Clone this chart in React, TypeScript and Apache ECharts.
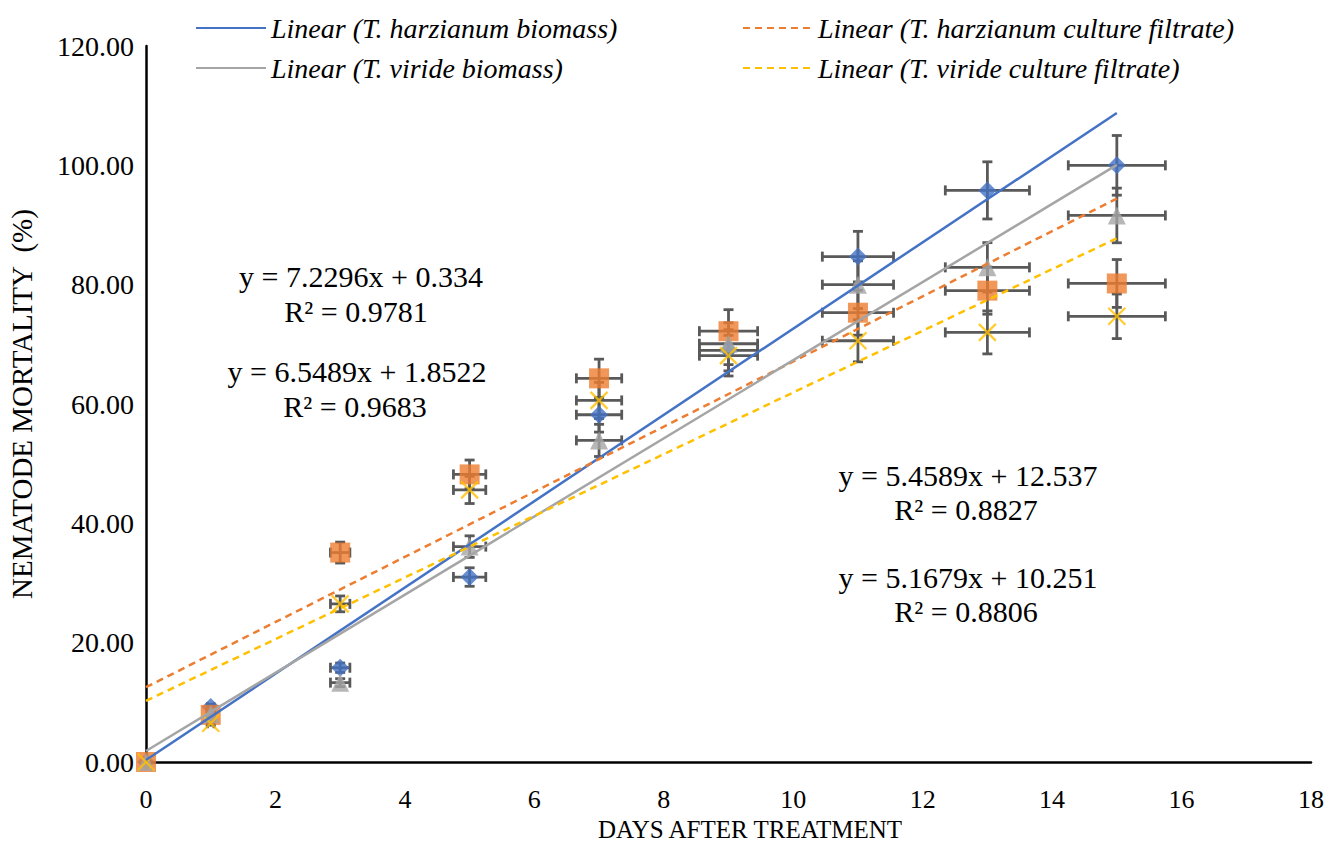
import React, { useEffect, useRef } from "react";
import * as echarts from "echarts";

const days = [0, 1, 3, 5, 7, 9, 11, 13, 15];
const harzBiomass = [0, 9.2, 15.8, 31.0, 58.2, 69.0, 84.7, 95.8, 100.0];
const harzFiltrate = [0, 7.9, 35.1, 48.2, 64.3, 72.2, 75.3, 79.0, 80.2];
const virBiomass = [0, 8.0, 13.3, 36.1, 53.9, 70.1, 80.0, 82.9, 91.6];
const virFiltrate = [0, 6.5, 26.5, 45.6, 60.6, 68.1, 70.6, 72.0, 74.7];
const errorPct = 0.05;

const trendSlopes = [7.2296, 5.4589, 6.5489, 5.1679];
const trendIntercepts = [0.334, 12.537, 1.8522, 10.251];
const trendRange = [0, 15];

const yTicks = [0, 20, 40, 60, 80, 100, 120];
const xTicks = [0, 2, 4, 6, 8, 10, 12, 14, 16, 18];
const xTitle = "DAYS AFTER TREATMENT";
const yTitle = "NEMATODE MORTALITY  (%)";

const seriesNames = [
  "T. harzianum biomass",
  "T. harzianum culture filtrate",
  "T. viride biomass",
  "T. viride culture filtrate",
];
const colors = ["#4472C4", "#ED7D31", "#A5A5A5", "#FFC000"];
const dashed = [false, true, false, true];
const values = [harzBiomass, harzFiltrate, virBiomass, virFiltrate];

const FONT = "Liberation Serif";

export default function App() {
  const ref = useRef<HTMLDivElement>(null);
  useEffect(() => {
    if (!ref.current) return;
    const chart = echarts.init(ref.current, null, { renderer: "svg" });

    const errData: number[][] = [];
    values.forEach((vals) => {
      days.forEach((d, i) => {
        if (d === 0) return;
        errData.push([d, vals[i], d * errorPct, vals[i] * errorPct]);
      });
    });

    const symbols = [
      "diamond",
      "rect",
      "triangle",
      "path://M0,0L10,10M10,0L0,10",
    ];
    const sizes = [18, 20, 18, 17];

    const scatterSeries = values.map((vals, k) => ({
      type: "scatter",
      name: seriesNames[k],
      data: days.map((d, i) => [d, vals[i]]),
      symbol: symbols[k],
      symbolSize: sizes[k],
      z: 3,
      itemStyle:
        k === 3
          ? { color: "rgba(0,0,0,0)", borderColor: colors[k], borderWidth: 2.3 }
          : { color: colors[k] },
    }));

    const trendSeries = trendSlopes.map((m, k) => ({
      type: "line",
      name: "Linear (" + seriesNames[k] + ")",
      data: trendRange.map((x) => [x, m * x + trendIntercepts[k]]),
      symbol: "none",
      showSymbol: false,
      z: 4,
      lineStyle: {
        color: colors[k],
        width: 2.5,
        type: dashed[k] ? [7, 5] : "solid",
      },
      itemStyle: { color: colors[k] },
    }));

    const legendPos = [
      { left: 190, top: 9 },
      { left: 737, top: 9 },
      { left: 190, top: 49 },
      { left: 737, top: 49 },
    ];
    const legends = [0, 1, 2, 3].map((k) => ({
      data: ["Linear (" + seriesNames[k] + ")"],
      left: legendPos[k].left,
      top: legendPos[k].top,
      itemWidth: 70,
      itemHeight: 14,
      itemGap: 10,
      selectedMode: false,
      itemStyle: { opacity: 0 },
      textStyle: {
        fontFamily: FONT,
        fontStyle: "italic",
        fontSize: 28,
        color: "#000",
      },
    }));

    const eqText = (x: number, y: number, t: string, size = 30) => ({
      type: "text",
      x,
      y,
      style: {
        text: t,
        fontFamily: FONT,
        fontSize: size,
        fill: "#000",
        textAlign: "center",
        textVerticalAlign: "middle",
      },
    });

    chart.setOption({
      animation: false,
      backgroundColor: "#fff",
      legend: legends,
      grid: {
        left: 146,
        right: 20,
        top: 46,
        bottom: 83,
        containLabel: false,
        outerBoundsMode: "none",
      },
      xAxis: {
        type: "value",
        min: xTicks[0],
        max: xTicks[xTicks.length - 1],
        interval: 2,
        axisLine: { lineStyle: { color: "#000", width: 2.5 } },
        axisTick: { show: false },
        splitLine: { show: false },
        axisLabel: {
          fontFamily: FONT,
          fontSize: 26,
          color: "#000",
          margin: 24,
        },
      },
      yAxis: {
        type: "value",
        min: yTicks[0],
        max: yTicks[yTicks.length - 1],
        interval: 20,
        name: yTitle,
        nameLocation: "middle",
        nameGap: 110,
        nameTextStyle: { fontFamily: FONT, fontSize: 29, color: "#000" },
        axisLine: { show: true, lineStyle: { color: "#000", width: 2.5 } },
        axisTick: { show: false },
        splitLine: { show: false },
        axisLabel: {
          fontFamily: FONT,
          fontSize: 28,
          color: "#000",
          margin: 12,
          formatter: (v: number) => v.toFixed(2),
        },
      },
      graphic: [
        eqText(750, 829, xTitle, 25),
        eqText(361, 276, "y = 7.2296x + 0.334"),
        eqText(356, 311, "R² = 0.9781"),
        eqText(357, 371, "y = 6.5489x + 1.8522"),
        eqText(355, 406, "R² = 0.9683"),
        eqText(968, 475, "y = 5.4589x + 12.537"),
        eqText(966, 509, "R² = 0.8827"),
        eqText(968, 577, "y = 5.1679x + 10.251"),
        eqText(966, 611, "R² = 0.8806"),
      ],
      series: [
        {
          type: "custom",
          name: "errors",
          z: 2,
          data: errData,
          renderItem: (params: any, api: any) => {
            const x = api.value(0);
            const y = api.value(1);
            const ex = api.value(2);
            const ey = api.value(3);
            const l = api.coord([x - ex, y]);
            const r = api.coord([x + ex, y]);
            const t = api.coord([x, y + ey]);
            const b = api.coord([x, y - ey]);
            const cap = 5;
            const st = { stroke: "#595959", lineWidth: 2.8 };
            const mk = (x1: number, y1: number, x2: number, y2: number) => ({
              type: "line",
              shape: { x1, y1, x2, y2 },
              style: st,
            });
            return {
              type: "group",
              children: [
                mk(l[0], l[1], r[0], r[1]),
                mk(l[0], l[1] - cap, l[0], l[1] + cap),
                mk(r[0], r[1] - cap, r[0], r[1] + cap),
                mk(t[0], t[1], b[0], b[1]),
                mk(t[0] - cap, t[1], t[0] + cap, t[1]),
                mk(b[0] - cap, b[1], b[0] + cap, b[1]),
              ],
            };
          },
        },
        ...scatterSeries,
        ...trendSeries,
      ],
    });
    return () => chart.dispose();
  }, []);
  return (
    <div
      ref={ref}
      style={{ position: "fixed", left: 0, top: 0, width: 1331, height: 845 }}
    />
  );
}
